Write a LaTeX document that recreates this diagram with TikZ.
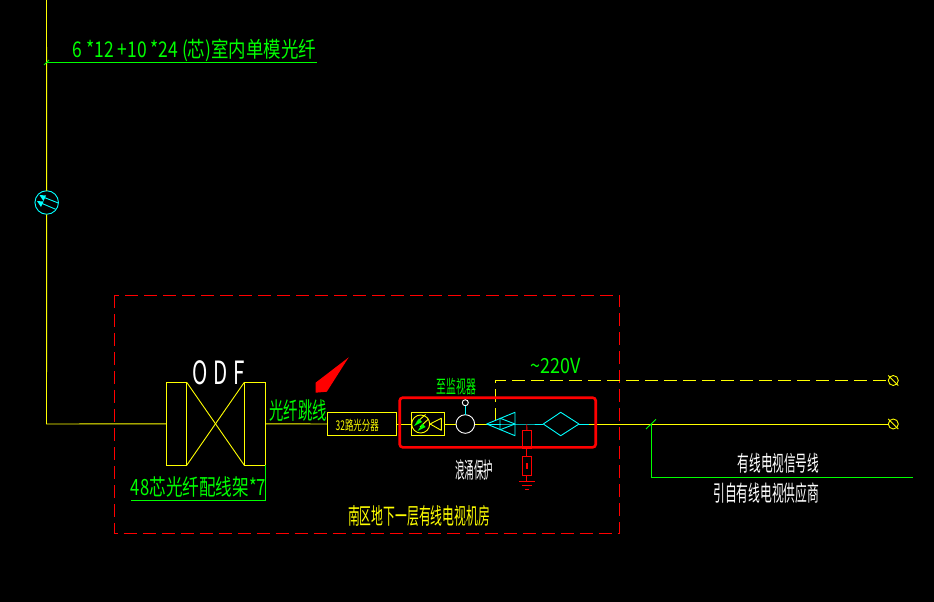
\documentclass[tikz,border=0pt]{standalone}
\usepackage{fontspec}
\usepackage{graphicx}
\newfontfamily\cjk{Noto Sans CJK SC}
\usetikzlibrary{arrows.meta}
\definecolor{cadgreen}{RGB}{0,255,0}
\definecolor{cadyellow}{RGB}{255,255,0}
\definecolor{cadcyan}{RGB}{0,255,255}
\definecolor{cadred}{RGB}{255,0,0}
\newcommand{\fitt}[3]{\resizebox*{#1pt}{#2pt}{#3}}
\tikzset{
  wire/.style={draw=cadyellow,line width=0.9pt},
  dashwire/.style={draw=cadyellow,line width=0.9pt,dash pattern=on 13pt off 6pt},
  gwire/.style={draw=cadgreen,line width=0.9pt},
  cwire/.style={draw=cadcyan,line width=0.9pt},
  rwire/.style={draw=cadred,line width=0.9pt},
  wwire/.style={draw=white,line width=0.9pt},
  txt/.style={inner sep=0pt,outer sep=0pt,font=\cjk},
  rect/.style={rectangle,inner sep=0pt,outer sep=0pt,line width=0.9pt},
  ring/.style={circle,inner sep=0pt,outer sep=0pt,line width=0.9pt},
  pt/.style={inner sep=0pt,outer sep=0pt,minimum size=0pt}
}
\begin{document}
\begin{tikzpicture}[x=1pt,y=-1pt]
\useasboundingbox (0,0) rectangle (934,602);
\fill[black] (0,0) rectangle (934,602);

% nodes
\coordinate (top) at (46.5,0);
\coordinate (corner) at (46.5,424);
\coordinate (tee) at (46.5,62.5);
\coordinate (leadend) at (317,62.5);
\node[ring,draw=cadcyan,minimum size=23.5pt] (fibre) at (46.7,202.5) {};
\node[rect,draw=cadyellow,minimum width=20.4pt,minimum height=83pt] (odfL) at (176.5,423.8) {};
\node[rect,draw=cadyellow,minimum width=21pt,minimum height=83pt] (odfR) at (254.8,423.8) {};
\node[rect,draw=cadyellow,minimum width=69.4pt,minimum height=23pt] (split) at (362,424) {};
\node[rect,draw=cadyellow,minimum width=33.4pt,minimum height=23.4pt] (conv) at (428,424) {};
\node[ring,draw=cadyellow,minimum size=18pt] (convc) at (420.7,424) {};
\node[ring,draw=white,minimum size=18.6pt] (amp) at (465.3,424) {};
\node[ring,draw=white,minimum size=6pt] (mon) at (465.3,402.7) {};
\coordinate (triL) at (486.7,424);
\coordinate (triR) at (515,424);
\coordinate (diaL) at (543.3,424);
\coordinate (diaR) at (579,424);
\coordinate (tap) at (526.7,424);
\node[ring,draw=cadyellow,minimum size=10pt] (termA) at (893.3,380.5) {};
\node[ring,draw=cadyellow,minimum size=10pt] (termB) at (893.3,424) {};
\node[rect,draw=cadred,minimum width=8.6pt,minimum height=18.7pt] (fuseA) at (526.9,439.3) {};
\node[rect,draw=cadred,minimum width=8.6pt,minimum height=18.7pt] (fuseB) at (526.9,466) {};
\coordinate (gnd) at (526.9,481.3);
\coordinate (dashc) at (495.3,380.5);
\coordinate (dashe) at (495.3,421);
\coordinate (tick) at (651.3,424);
\coordinate (cablec) at (651.3,477.3);
\coordinate (cablee) at (913,477.3);
\coordinate (ul48) at (131,500.3);
\coordinate (ulc) at (265.3,500.3);

% frame
\draw[rwire,dash pattern=on 13pt off 6pt] (114.5,295) rectangle (619.5,533);

% yellow runs
\draw[wire] (top) -- (fibre.north);
\draw[wire] (fibre.south) -- (corner) -- (odfL.west);
\draw[wire] (odfL.north east) -- (odfR.south west);
\draw[wire] (odfL.south east) -- (odfR.north west);
\draw[wire] (odfR.east) -- (split.west);
\draw[wire] (split.east) -- (conv.west);
\draw[wire] (conv.west) -- (convc.west);
\draw[wire] (conv.east) -- (amp.west);
\draw[wire] (amp.east) -- (triL);
\draw[wire] (diaR) -- (termB.west);
\draw[dashwire] (dashe) -- (dashc) -- (termA.west);
\draw[wire] (termA.north west)++(-1.5,-1.5) -- ([shift={(1.5pt,-1.5pt)}]termA.south east);
\draw[wire] (termB.north west)++(-1.5,-1.5) -- ([shift={(1.5pt,-1.5pt)}]termB.south east);

% converter triangle
\draw[wire,join=round] (430,424) -- (441.3,418.3) -- (441.3,430.3) -- cycle;
\draw[wire] (convc.east) -- (430,424);
\draw[wire] (425.5,414.5) -- (417,422);
\draw[wire] (428.5,419) -- (420,427);
\fill[cadgreen] (414,426) -- (419,418.5) -- (422,422) -- cycle;
\fill[cadgreen] (417.5,431) -- (422.5,423.5) -- (425.5,427) -- cycle;

% cyan parts
\draw[cwire] (mon.south) -- (amp.north);
\draw[cwire,join=round] (triL) -- (515,412.3) -- (515,435.7) -- cycle;
\draw[cwire,join=round] (500,418.2) -- (515,424) -- (500,429.8) -- cycle;
\draw[cwire] (triL) -- (triR) -- (tap) -- (diaL);
\draw[cwire,join=round] (diaL) -- (560.7,412.3) -- (diaR) -- (560.7,435.7) -- cycle;
\draw[cwire] (diaR) -- (589,424);
\draw[wire] (589,424) -- (termB.west);

% fibre symbol
\draw[cwire] (43,197) -- (58.3,203);
\draw[cwire] (41,203) -- (55.7,209.3);
\fill[cadcyan] (39.5,195) -- (46,195.5) -- (43.5,201) -- cycle;
\fill[cadcyan] (37,201) -- (43.5,201.5) -- (41,207) -- cycle;

% surge protection
\draw[rwire] (tap) -- (fuseA.north);
\draw[rwire] (fuseA.south) -- (fuseB.north);
\draw[rwire] (fuseB.south) -- (gnd);
\draw[rwire] (519,481.3) -- (gnd) -- (535,481.3);
\draw[rwire] (521.7,485.3) -- (532.3,485.3);
\draw[rwire] (525,489.3) -- (529,489.3);
\fill[cadred] (526,463.3) rectangle (528,469);

% green leaders
\draw[gwire] (tee) -- (leadend);
\draw[gwire] (44,65) -- (49,60);
\draw[gwire] (odfR.south east) -- (ulc) -- (ul48);
\draw[gwire] (646,429) -- (656,419.3);
\draw[gwire] (tick) -- (cablec) -- (cablee);

% red marks
\fill[cadred] (348.7,357.3) -- (315.6,382.7) -- (315.7,392.7) -- (326.8,391.7) -- cycle;
\draw[cadred,line width=2.6pt,rounded corners=3pt] (399.7,397.7) rectangle (595.7,447.3);

% labels
\node[txt,text=cadgreen] (t1) at (194.3,50.3) {\fitt{243.3}{22.7}{6 *12 +10 *24 (芯)室内单模光纤}};
\node[txt,text=white] (t2) at (218.8,372.8) {\fitt{52.3}{24.3}{O\hspace{0.28em}D\hspace{0.28em}F}};
\node[txt,text=cadgreen] (t3) at (298,410.8) {\fitt{57.4}{21.7}{光纤跳线}};
\node[txt,text=cadyellow] (t4) at (357.2,425.5) {\fitt{43}{12.4}{32路光分器}};
\node[txt,text=cadgreen] (t5) at (198.5,487) {\fitt{135}{20.6}{48芯光纤配线架*7}};
\node[txt,text=cadyellow] (t6) at (419,515.5) {\fitt{142}{21}{南区地下一层有线电视机房}};
\node[txt,text=cadgreen] (t7) at (456.3,386.7) {\fitt{39.3}{16.7}{至监视器}};
\node[txt,text=white] (t8) at (474.2,469.7) {\fitt{38.3}{20.7}{浪涌保护}};
\node[txt,text=cadgreen] (t9) at (555.5,366) {\fitt{50}{15.5}{\textasciitilde 220V}};
\node[txt,text=white] (t10) at (778.5,463.3) {\fitt{81.6}{20}{有线电视信号线}};
\node[txt,text=white] (t11) at (766.3,493) {\fitt{106}{20.6}{引自有线电视供应商}};
\end{tikzpicture}
\end{document}
